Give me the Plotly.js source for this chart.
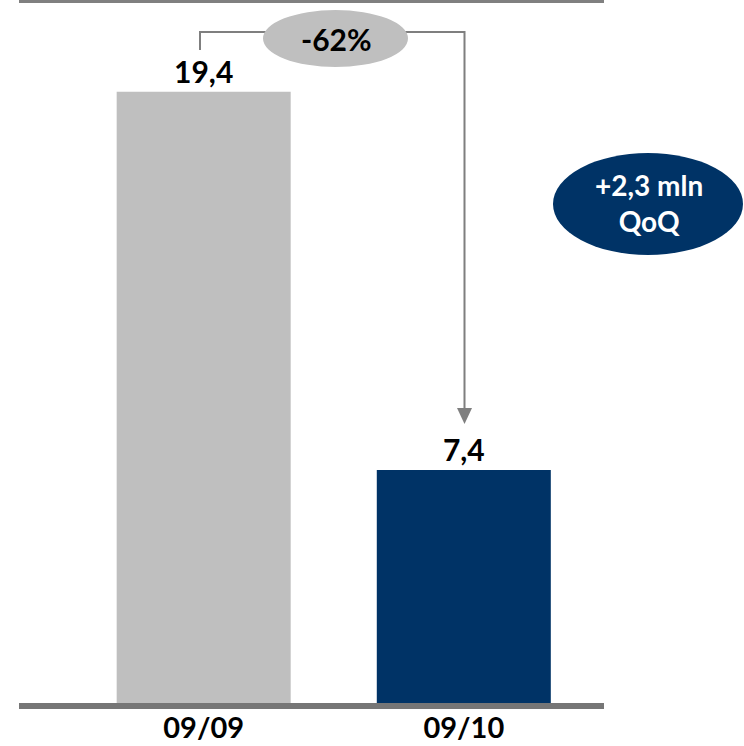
<!DOCTYPE html>
<html>
<head>
<meta charset="utf-8">
<script src="https://cdn.plot.ly/plotly-3.0.1.min.js"></script>
<style>html,body{margin:0;padding:0;background:#fff;}#chart{width:744px;height:746px;}</style>
</head>
<body>
<div id="chart"></div>
<script>
// ---- data ----
const categories = ["09/09", "09/10"];
const values = [19.4, 7.4];
const barColors = ["#bfbfbf", "#003366"];
const changeLabel = "-62%";
const qoqLabel = "+2,3 mln<br>QoQ";

// ---- layout helpers (pixel -> paper) ----
const L = 19, R = 140, T = 3, B = 43, W = 744, H = 746;
const PW = W - L - R, PH = H - T - B;
const px = x => (x - L) / PW;
const py = y => (H - B - y) / PH;
const FONT = "Lato, 'Open Sans', 'Liberation Sans', sans-serif";

const trace = {
  type: "bar",
  x: [0, 1],
  y: values,
  width: 0.669,
  marker: {color: barColors, line: {width: 0}},
  text: values.map(v => v.toFixed(1).replace(".", ",")),
  textposition: "outside",
  textfont: {family: FONT, size: 30, color: "#000", weight: "bold"},
  cliponaxis: false,
  hoverinfo: "none"
};

const lineCol = "#7f7f7f";
const shapes = [
  // top rule
  {type: "rect", xref: "paper", yref: "paper", x0: 0, x1: 1, y0: py(3), y1: py(0),
   fillcolor: "#808080", line: {width: 0}},
  // bottom axis line
  {type: "rect", xref: "paper", yref: "paper", x0: 0, x1: px(604), y0: py(709), y1: py(703),
   fillcolor: "#767676", line: {width: 0}, layer: "above"},
  // bracket
  {type: "path", xref: "paper", yref: "paper",
   path: `M ${px(200)} ${py(50)} L ${px(200)} ${py(32)} L ${px(464.5)} ${py(32)} L ${px(464.5)} ${py(409)}`,
   line: {color: lineCol, width: 2}},
  // arrowhead
  {type: "path", xref: "paper", yref: "paper",
   path: `M ${px(457)} ${py(408)} L ${px(472)} ${py(408)} L ${px(464.5)} ${py(424)} Z`,
   fillcolor: lineCol, line: {color: lineCol, width: 0}},
  // -62% ellipse
  {type: "circle", xref: "paper", yref: "paper",
   x0: px(263), x1: px(408), y0: py(67), y1: py(10),
   fillcolor: "#bfbfbf", line: {width: 0}},
  // QoQ ellipse
  {type: "circle", xref: "paper", yref: "paper",
   x0: px(553), x1: px(743), y0: py(255), y1: py(153),
   fillcolor: "#003366", line: {width: 0}}
];

const annotations = [
  {xref: "paper", yref: "paper", x: px(336), y: py(39), text: changeLabel, showarrow: false,
   font: {family: FONT, size: 30, color: "#000", weight: "bold"}, xanchor: "center", yanchor: "middle"},
  {xref: "paper", yref: "paper", x: px(649), y: py(203), text: qoqLabel, showarrow: false,
   font: {family: FONT, size: 28, color: "#fff", weight: "bold"}, xanchor: "center", yanchor: "middle"}
];

const layout = {
  width: W, height: H,
  margin: {l: L, r: R, t: T, b: B, pad: 0},
  paper_bgcolor: "#fff", plot_bgcolor: "#fff",
  showlegend: false,
  separators: ", ",
  xaxis: {
    range: [-0.71, 1.539],
    tickvals: [0, 1], ticktext: categories,
    showgrid: false, zeroline: false, showline: false, ticks: "",
    ticklabelstandoff: 5,
    tickfont: {family: FONT, size: 29, color: "#000", weight: "bold"},
    fixedrange: true
  },
  yaxis: {
    range: [0, 22.22],
    visible: false, showgrid: false, zeroline: false, fixedrange: true
  },
  shapes: shapes,
  annotations: annotations
};

Plotly.newPlot("chart", [trace], layout, {displayModeBar: false, staticPlot: true});
</script>
</body>
</html>
